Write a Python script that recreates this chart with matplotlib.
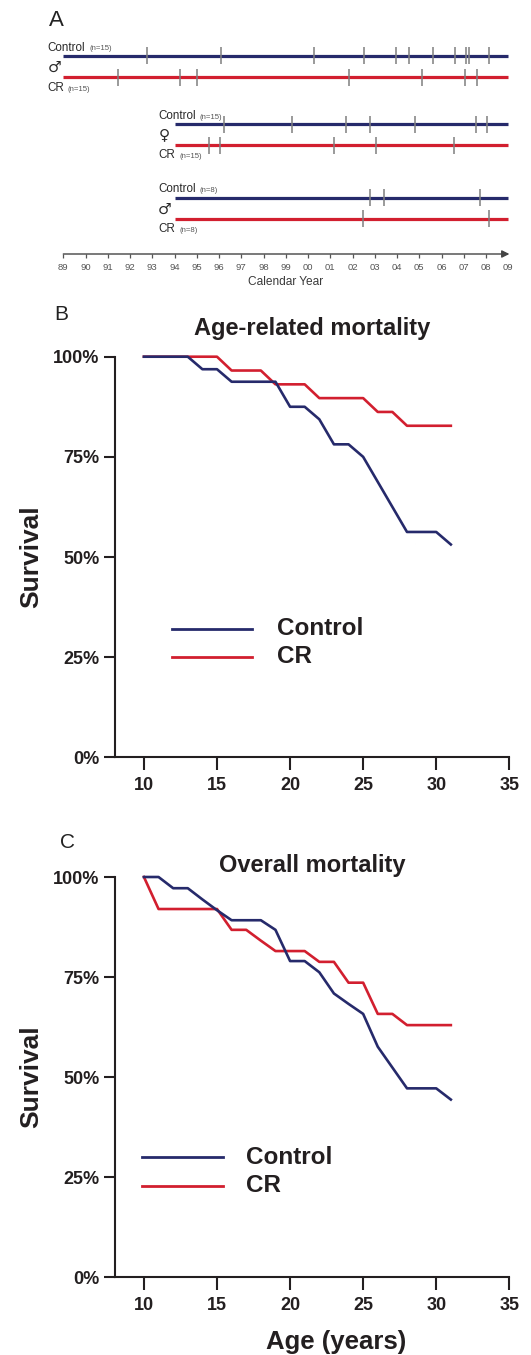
import matplotlib
matplotlib.use("Agg")
import matplotlib.pyplot as plt
from matplotlib.lines import Line2D

plt.rcParams['font.family'] = ['Liberation Sans', 'DejaVu Sans']

# ---------------- data ----------------
ages = [10, 11, 12, 13, 14, 15, 16, 17, 18, 19, 20, 21, 22, 23, 24, 25, 26, 27, 28, 29, 30, 31]
age_ctrl = [100, 100, 100, 100, 96.875, 96.875, 93.75, 93.75, 93.75, 93.75, 87.5, 87.5,
            84.375, 78.125, 78.125, 75, 68.75, 62.5, 56.25, 56.25, 56.25, 53.125]
age_cr = [100, 100, 100, 100, 100, 100, 96.55, 96.55, 96.55, 93.1, 93.1, 93.1,
          89.66, 89.66, 89.66, 89.66, 86.21, 86.21, 82.76, 82.76, 82.76, 82.76]
all_ctrl = [100, 100, 97.2, 97.2, 94.4, 91.7, 89.2, 89.2, 89.2, 86.8, 79.0, 79.0,
            76.2, 70.9, 68.3, 65.8, 57.6, 52.4, 47.2, 47.2, 47.2, 44.4]
all_cr = [100, 92.0, 92.0, 92.0, 92.0, 92.0, 86.8, 86.8, 84.1, 81.5, 81.5, 81.5,
          78.8, 78.8, 73.6, 73.6, 65.8, 65.8, 63.0, 63.0, 63.0, 63.0]

x_ticks = [10, 15, 20, 25, 30, 35]
y_ticks = [0, 25, 50, 75, 100]
y_ticklabels = ['0%', '25%', '50%', '75%', '100%']

# Panel A: deaths by calendar year
years = list(range(1989, 2010))
year_labels = [f"{y % 100:02d}" for y in years]
male1_ctrl_deaths = [1992.75, 1996.07, 2000.28, 2002.53, 2003.95, 2004.54, 2005.61, 2006.62, 2007.10, 2007.25, 2008.15]
male1_cr_deaths = [1991.46, 1994.26, 1995.0, 2001.82, 2005.12, 2007.05, 2007.61]
fem_ctrl_deaths = [1996.24, 1999.28, 2001.70, 2002.78, 2004.80, 2007.53, 2008.04]
fem_cr_deaths = [1995.55, 1996.03, 2001.18, 2003.04, 2006.54]
male2_ctrl_deaths = [2002.77, 2003.41, 2007.73]
male2_cr_deaths = [2002.47, 2008.15]
group_start = [1989, 1994, 1994]
group_end = 2009

NAVY = '#262a6b'
RED = '#d21f2f'
DARK = '#231f20'
GRAY = '#7f7f7f'

W, H = 531, 1355
fig = plt.figure(figsize=(W / 100, H / 100), dpi=100)


def fx(x):
    return x / W


def fy(y):
    return 1 - y / H


# ---------------- Panel A ----------------
axA = fig.add_axes([fx(63.3), fy(300), (508.3 - 63.3) / W, 300 / H])
axA.set_xlim(1989, 2009)
axA.set_ylim(300, 0)
axA.axis('off')

rows = [
    (55.7, group_start[0], NAVY, male1_ctrl_deaths),
    (77.0, group_start[0], RED, male1_cr_deaths),
    (124.3, group_start[1], NAVY, fem_ctrl_deaths),
    (145.0, group_start[1], RED, fem_cr_deaths),
    (197.7, group_start[2], NAVY, male2_ctrl_deaths),
    (218.7, group_start[2], RED, male2_cr_deaths),
]
for yrow, start, col, deaths in rows:
    axA.plot([start, group_end], [yrow, yrow], color=col, lw=2.3, solid_capstyle='butt',
             clip_on=False, zorder=2)
    axA.vlines(deaths, yrow - 8.5, yrow + 8.5, color=GRAY, lw=1.1, zorder=3, clip_on=False)

# calendar axis
AX_Y = 254
axA.annotate('', xy=(2009.05, AX_Y), xytext=(1989, AX_Y),
             arrowprops=dict(arrowstyle='-|>', color='#444444', lw=1.0,
                             mutation_scale=11, shrinkA=0, shrinkB=0),
             annotation_clip=False)
axA.vlines(years[:-1], AX_Y, AX_Y + 4, color='#555555', lw=0.9, clip_on=False)
for yv, lab in zip(years, year_labels):
    axA.text(yv, 267.3, lab, ha='center', va='center', fontsize=6.8, color='#555555')
fig.text(fx(285.8), fy(282.3), 'Calendar Year', ha='center', va='center', fontsize=8.6,
         color='#3a3a3a')

# group labels
label_specs = [
    (47.7, 47.8, 89.8, '(n=15)', 'Control'),
    (47.0, 88.3, 67.9, '(n=15)', 'CR'),
    (158.3, 116.3, 199.8, '(n=15)', 'Control'),
    (158.3, 155.0, 179.0, '(n=15)', 'CR'),
    (158.3, 189.5, 199.8, '(n=8)', 'Control'),
    (158.3, 229.0, 179.0, '(n=8)', 'CR'),
]
for xl, yl, xn, ntxt, name in label_specs:
    fig.text(fx(xl), fy(yl), name, ha='left', va='center', fontsize=8.4, color='#2a2a2a')
    fig.text(fx(xn), fy(yl + 1), ntxt, ha='left', va='center', fontsize=5.6, color='#555555')

fig.text(fx(54.5), fy(67), '♂', ha='center', va='center', fontsize=11, color='#2a2a2a',
         family=['DejaVu Sans'])
fig.text(fx(164.5), fy(135), '♀', ha='center', va='center', fontsize=11, color='#2a2a2a',
         family=['DejaVu Sans'])
fig.text(fx(165), fy(209.5), '♂', ha='center', va='center', fontsize=11, color='#2a2a2a',
         family=['DejaVu Sans'])

fig.text(fx(56.5), fy(21), 'A', ha='center', va='center', fontsize=16, color='#222222')
fig.text(fx(61), fy(314), 'B', ha='center', va='center', fontsize=15, color='#222222')
fig.text(fx(67.5), fy(842.7), 'C', ha='center', va='center', fontsize=15, color='#222222')


# ---------------- survival panels ----------------
def survival_axes(y_top, y_bottom, ctrl, cr, title, title_y, leg_y1, leg_y2, leg_x0, leg_x1, txt_x):
    ax = fig.add_axes([fx(114.7), fy(y_bottom), (509.3 - 114.7) / W, (y_bottom - y_top) / H])
    ax.set_xlim(8, 35)
    ax.set_ylim(0, 100)
    ax.plot(ages, ctrl, color=NAVY, lw=1.9, clip_on=False, zorder=3, label='Control')
    ax.plot(ages, cr, color=RED, lw=1.9, clip_on=False, zorder=2, label='CR')
    for s in ['top', 'right']:
        ax.spines[s].set_visible(False)
    for s in ['left', 'bottom']:
        ax.spines[s].set_linewidth(1.5)
        ax.spines[s].set_color(DARK)
    ax.set_xticks(x_ticks)
    ax.set_yticks(y_ticks)
    ax.set_yticklabels(y_ticklabels)
    ax.tick_params(axis='x', length=9.4, width=1.5, color=DARK, pad=4.5, labelsize=13)
    ax.tick_params(axis='y', length=7.9, width=1.5, color=DARK, pad=3.0, labelsize=13)
    for lab in ax.get_xticklabels() + ax.get_yticklabels():
        lab.set_fontweight('bold')
        lab.set_color(DARK)
    ax.patch.set_alpha(0)
    fig.text(fx(312), fy(title_y), title, ha='center', va='center', fontsize=17,
             fontweight='bold', color=DARK)
    fig.text(fx(31), fy((y_top + y_bottom) / 2), 'Survival', ha='center', va='center',
             rotation=90, fontsize=19, fontweight='bold', color=DARK)
    for yy, col, name in [(leg_y1, NAVY, 'Control'), (leg_y2, RED, 'CR')]:
        fig.add_artist(Line2D([fx(leg_x0), fx(leg_x1)], [fy(yy), fy(yy)], color=col, lw=2.0,
                              transform=fig.transFigure))
        fig.text(fx(txt_x), fy(yy), name, ha='left', va='center', fontsize=17.5,
                 fontweight='bold', color=DARK)
    return ax


axB = survival_axes(356.7, 757.3, age_ctrl, age_cr, 'Age-related mortality', 329,
                    629, 656.7, 171.7, 251.7, 276.7)
axC = survival_axes(877.0, 1277.3, all_ctrl, all_cr, 'Overall mortality', 865.7,
                    1157.3, 1185.7, 141.7, 222.7, 245.7)

fig.text(fx(336), fy(1341.7), 'Age (years)', ha='center', va='center', fontsize=18.5,
         fontweight='bold', color=DARK)

fig.savefig('out.png', dpi=100, facecolor='white')
